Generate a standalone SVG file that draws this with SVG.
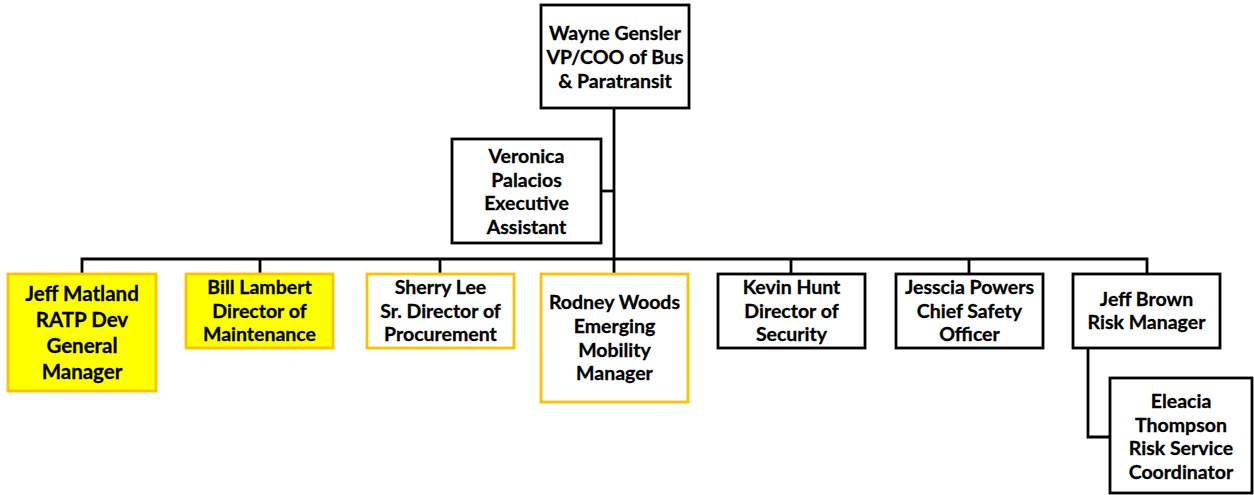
<svg xmlns="http://www.w3.org/2000/svg" width="1254" height="495" viewBox="0 0 1254 495">
  <style>
    .box { fill: #ffffff; stroke: #000000; stroke-width: 2.8; }
    .gold { fill: #ffffff; stroke: #ffc000; stroke-width: 2.8; }
    .hl { fill: #ffff00; stroke: #ffc000; stroke-width: 2.8; }
    .wire { fill: none; stroke: #000000; stroke-width: 2.8; }
    text { font-family: Lato, "Liberation Sans", sans-serif; font-weight: 700; font-size: 19.5px; fill: #000000; text-anchor: middle; stroke: #000000; stroke-width: 0.3; }
    .big { font-size: 20.5px; }
  </style>
  <rect width="1254" height="495" fill="#ffffff"/>

  <!-- reporting lines -->
  <g id="connectors">
    <path class="wire" d="M614 108 V259"/>
    <path class="wire" d="M601 191 H614"/>
    <path class="wire" d="M82 274 V259 H1147 V274"/>
    <path class="wire" d="M260 259 V274 M440 259 V274 M614 259 V274 M791 259 V274 M969 259 V274"/>
    <path class="wire" d="M1088 348 V437 H1110"/>
  </g>

  <g id="wayne-gensler">
    <rect class="box" x="541" y="5" width="148" height="103"/>
    <text x="615" y="40">Wayne Gensler</text>
    <text x="615" y="64">VP/COO of Bus</text>
    <text x="615" y="88">&amp; Paratransit</text>
  </g>

  <g id="veronica-palacios">
    <rect class="box" x="452" y="139" width="149" height="104"/>
    <text x="526.5" y="163">Veronica</text>
    <text x="526.5" y="186.5">Palacios</text>
    <text x="526.5" y="210">Executive</text>
    <text x="526.5" y="233.5">Assistant</text>
  </g>

  <g id="jeff-matland">
    <rect class="hl" x="8" y="274" width="148" height="117"/>
    <text class="big" x="82" y="301">Jeff Matland</text>
    <text class="big" x="82" y="327">RATP Dev</text>
    <text class="big" x="82" y="353">General</text>
    <text class="big" x="82" y="379">Manager</text>
  </g>

  <g id="bill-lambert">
    <rect class="hl" x="186" y="274" width="147" height="74"/>
    <text x="259.5" y="294">Bill Lambert</text>
    <text x="259.5" y="317.5">Director of</text>
    <text x="259.5" y="341">Maintenance</text>
  </g>

  <g id="sherry-lee">
    <rect class="gold" x="367" y="274" width="147" height="74"/>
    <text x="440.5" y="294">Sherry Lee</text>
    <text x="440.5" y="317.5">Sr. Director of</text>
    <text x="440.5" y="341">Procurement</text>
  </g>

  <g id="rodney-woods">
    <rect class="gold" x="541" y="274" width="147" height="128"/>
    <text x="614.5" y="309">Rodney Woods</text>
    <text x="614.5" y="333">Emerging</text>
    <text x="614.5" y="357">Mobility</text>
    <text x="614.5" y="380">Manager</text>
  </g>

  <g id="kevin-hunt">
    <rect class="box" x="718" y="274" width="147" height="74"/>
    <text x="791.5" y="294">Kevin Hunt</text>
    <text x="791.5" y="317.5">Director of</text>
    <text x="791.5" y="341">Security</text>
  </g>

  <g id="jesscia-powers">
    <rect class="box" x="896" y="274" width="147" height="74"/>
    <text x="969.5" y="294">Jesscia Powers</text>
    <text x="969.5" y="317.5">Chief Safety</text>
    <text x="969.5" y="341">Officer</text>
  </g>

  <g id="jeff-brown">
    <rect class="box" x="1073" y="274" width="147" height="74"/>
    <text x="1146.5" y="305.5">Jeff Brown</text>
    <text x="1146.5" y="329">Risk Manager</text>
  </g>

  <g id="eleacia-thompson">
    <rect class="box" x="1110" y="378" width="142" height="115"/>
    <text x="1181" y="408">Eleacia</text>
    <text x="1181" y="432">Thompson</text>
    <text x="1181" y="455">Risk Service</text>
    <text x="1181" y="479">Coordinator</text>
  </g>
</svg>
